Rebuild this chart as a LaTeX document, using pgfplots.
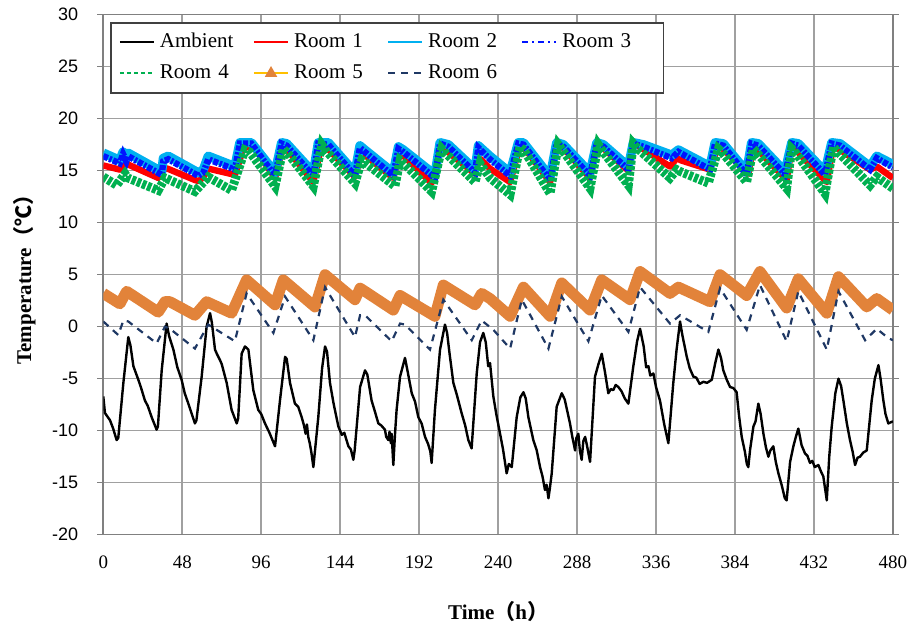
\documentclass[border=0pt]{standalone}
\usepackage{pgfplots}
\pgfplotsset{compat=1.18}
\usepackage{fontspec}
\setmainfont{Liberation Serif}
\setsansfont{Liberation Sans}
\newfontfamily\cjk{Noto Sans CJK SC}

\definecolor{gridgray}{RGB}{160,160,160}
\definecolor{framegray}{RGB}{128,128,128}
\definecolor{rOne}{RGB}{255,0,0}
\definecolor{rTwo}{RGB}{0,176,240}
\definecolor{rThree}{RGB}{0,20,255}
\definecolor{rFour}{RGB}{0,176,80}
\definecolor{rFive}{RGB}{226,131,58}
\definecolor{rFiveLine}{RGB}{255,192,0}
\definecolor{rSix}{RGB}{31,56,100}

\begin{document}
\begin{tikzpicture}
\begin{axis}[
  width=394.8pt, height=260pt, scale only axis,
  xmin=0, xmax=480, ymin=-20, ymax=30,
  xtick={0,48,...,480}, ytick={-20,-15,...,30},
  grid=major,
  grid style={draw=gridgray, line width=0.8pt},
  axis line style={draw=framegray, line width=0.8pt},
  x tick style={draw=none},
  y tick style={draw=framegray, line width=0.8pt},
  major tick length=3pt,
  tick align=outside,
  /pgf/number format/assume math mode=true,
  xticklabel style={font=\fontsize{9.5}{10}\selectfont, yshift=-4pt},
  yticklabel style={font=\sffamily\fontsize{9}{10}\selectfont, xshift=-6pt},
  xlabel={\textbf{Time}{\cjk\bfseries （}\textbf{h}{\cjk\bfseries ）}},
  ylabel={\textbf{Temperature}{\cjk\bfseries （℃）}},
  every axis x label/.style={at={(axis description cs:0.5,-0.148)}, anchor=center, font=\fontsize{10.5}{12}\selectfont},
  every axis y label/.style={at={(axis description cs:-0.1,0.5)}, anchor=center, rotate=90, font=\fontsize{10.5}{12}\selectfont},
  legend columns=4,
  legend cell align=left,
  legend style={at={(axis description cs:0.0085,0.986)}, anchor=north west,
    draw=black!75, line width=0.8pt, fill=white,
    inner xsep=4pt, inner ysep=2pt,
    font=\fontsize{10.5}{12}\selectfont,
    nodes={text width=44pt, inner xsep=2.5pt, inner ysep=3pt, text height=7.5pt, text depth=2pt},
    /tikz/every even column/.append style={column sep=0pt}},
]
\coordinate (sw) at (rel axis cs:0,0);
\coordinate (ne) at (rel axis cs:1,1);

% legend entries
\addlegendimage{black, line width=1pt}
\addlegendentry{Ambient}
\addlegendimage{rOne, line width=1pt}
\addlegendentry{Room 1}
\addlegendimage{rTwo, line width=1pt}
\addlegendentry{Room 2}
\addlegendimage{rThree, line width=1pt, dash pattern=on 3pt off 2pt on 1pt off 2pt}
\addlegendentry{Room 3}
\addlegendimage{rFour, line width=1pt, dash pattern=on 2pt off 1.5pt}
\addlegendentry{Room 4}
\addlegendimage{rFiveLine, line width=1pt, mark=triangle*, mark size=2.6pt, mark options={solid, fill=rFive, draw=rFive}}
\addlegendentry{Room 5}
\addlegendimage{rSix, line width=1pt, dash pattern=on 3.5pt off 3pt}
\addlegendentry{Room 6}

% Ambient
\addplot[forget plot, black, line width=1.2pt, line join=round] coordinates {
(0,-6.7)(1,-8.3)(4.1,-9.0)(6,-9.8)(8.1,-10.9)(9.1,-10.7)(12.2,-5.4)(15.2,-1.0)(16.5,-1.8)
(18.3,-3.8)(21.3,-5.1)(23,-5.9)(25.3,-7.1)(27,-7.6)(29.4,-8.7)(32.4,-9.9)(33.2,-9.6)
(35.5,-4.2)(38.5,0.3)(40,-0.9)(42.6,-2.2)(45,-3.9)(47.6,-5.1)(49.5,-6.4)(51.7,-7.4)(55.7,-9.3)(56.6,-9.0)
(59.8,-4.8)(62.8,0.0)(64.9,1.3)(66,0.4)(67.9,-2.2)(69,-2.6)(70.9,-3.2)(72,-3.6)(75,-5.4)(78,-8.0)(81.1,-9.3)(82,-8.8)
(84.1,-2.6)(86.1,-1.9)(88.2,-2.2)(91.2,-6.1)(94.2,-8.0)(96,-8.4)(98.3,-9.3)(101,-10.2)(104.4,-11.5)
(107.4,-7.1)(110.5,-2.9)(111.5,-3.1)(113.5,-5.4)(116.5,-7.4)(118.5,-7.7)(120.6,-8.7)(122,-9.5)(123,-10.3)(123.8,-9.4)(124.6,-10.6)(125.5,-11.2)(126.5,-12.1)(127.7,-13.5)
(130.7,-8.7)(133,-4.0)(134.8,-1.9)(136,-2.4)(137.8,-5.4)(140,-7.4)(142.9,-9.6)(145,-10.4)(146.5,-10.2)(149,-11.5)(150.5,-11.8)(152,-12.8)(152.8,-11.9)
(156.1,-5.8)(159.1,-4.2)(160.5,-4.6)(163.1,-7.1)(165,-8.1)(167.2,-9.3)(169,-9.5)(171.2,-9.9)(172,-10.6)(173.3,-10.9)(174,-10.1)(174.8,-11.2)(175.3,-10.3)(176.3,-13.3)(177.3,-10.4)
(178.3,-8.0)(180.4,-4.8)(183.4,-3.0)(185,-4.3)(187.5,-6.4)(189.5,-7.2)(191.5,-8.7)(193.5,-9.3)(195.6,-10.6)(197.5,-11.3)(198.8,-12.0)(199.6,-13.1)
(201.6,-8.0)(204.7,-2.2)(207.7,0.2)(209,-0.6)(210.5,-2.6)(212.8,-5.4)(215,-6.6)(217.8,-8.3)(220,-9.5)(221.9,-10.9)(223.9,-11.7)
(227,-4.5)(229,-1.5)(231,-0.6)(232.5,-1.5)(234,-3.8)(235.1,-3.5)(237.1,-6.7)(239,-8.5)(241.2,-10.3)(243,-11.8)(245.2,-14.1)(246.5,-13.2)(248.3,-13.5)
(251.3,-8.7)(253.5,-6.8)(255.4,-6.3)(256.8,-6.9)(258.4,-8.7)(261.4,-10.9)(263.5,-11.9)(265.5,-13.5)(267,-14.4)(268.5,-15.7)(269.5,-15.2)(270.6,-16.5)(271.5,-15.5)(272.6,-14.1)
(275.6,-7.7)(278.7,-6.4)(280.5,-7.0)(283.7,-9.3)(285,-10.5)(286.8,-11.9)(287.6,-10.7)(288.8,-10.3)(289.7,-11.9)(290.8,-12.8)(291.8,-11.0)(292.9,-10.6)(294,-11.4)(295.9,-13.0)
(298.9,-4.8)(301,-3.6)(303,-2.6)(305,-4.4)(307,-6.4)(308.5,-6.0)(310,-6.1)(311.5,-5.6)(313.1,-5.8)(315,-6.2)(317,-6.9)(319.2,-7.4)
(322.2,-3.8)(324.5,-1.4)(326.3,-0.2)(328.5,-1.9)(330,-3.9)(331.4,-3.8)(332.5,-4.7)(334.4,-4.5)(336,-5.8)(338.4,-7.1)(341,-9.4)(343.5,-11.2)
(346.5,-5.4)(348.5,-2.2)(350.6,0.5)(352,-0.8)(354.7,-2.9)(356.5,-4.0)(358.7,-4.8)(360.5,-4.9)(362.5,-5.5)(364.8,-5.3)(367,-5.4)(369.9,-5.1)
(372,-3.5)(373.9,-2.2)(375.5,-3.0)(376.9,-4.2)(379,-5.1)(381,-5.8)(383,-5.9)(385,-6.3)(386.5,-8.6)(388.1,-10.6)(390,-12.0)(391.2,-13.2)(392.1,-13.5)(393.2,-11.8)
(395.2,-9.6)(396.5,-9.1)(398.2,-7.4)(399.6,-8.4)(401.3,-10.3)(402.8,-11.6)(404.3,-12.5)(405.5,-11.9)(407.3,-11.5)(408.8,-13.0)(410.4,-14.1)(412.5,-15.3)(414.3,-16.5)(415.4,-16.7)
(417.5,-13.0)(419.5,-11.5)(421,-10.6)(422.5,-9.8)(424.5,-11.4)(426.6,-12.2)(428,-12.4)(429.6,-13.1)(431,-12.9)(432.5,-13.5)(434.7,-13.3)(436.2,-13.9)(437.7,-14.4)(439.8,-16.7)
(441.3,-12.5)(442.8,-9.6)(445,-6.4)(446.9,-5.0)(448.5,-5.7)(449.9,-7.1)(452,-9.3)(453.9,-10.9)(455.5,-12.0)(457,-13.3)(458.5,-12.6)(460,-12.5)(462,-12.1)(464.1,-11.9)
(467.1,-7.1)(469,-5.0)(471.2,-3.7)(472.5,-5.0)(474.2,-7.1)(475.5,-8.4)(477.2,-9.3)(480,-9.1)
};

% Room 1
\addplot[forget plot, rOne, line width=3.2pt, line join=round] coordinates {
(0,15.5)(10.1,15.1)(13.2,16.0)(15,15.6)(33.4,14.3)(36.5,15.2)(39,15.2)(55.7,14.1)(58,14.0)(60.8,14.4)(63.8,15.2)
(80,14.6)(85.1,17.1)(90.2,17.5)(92,17.2)(104.4,14.3)(109.4,17.3)(112,17.0)(127.7,13.9)(132.8,17.6)(136,17.2)
(153,14.4)(157.1,16.7)(159.1,16.5)(176.3,14.3)(180.4,16.7)(182,16.5)(199.6,13.8)(205.7,17.3)(208,17.0)
(226,14.7)(228,16.3)(235.1,15.2)(247.3,13.9)(253.3,17.5)(256,17.2)(271.6,13.9)(276.6,17.6)(279,17.3)
(295.9,14.3)(300.9,17.6)(303,17.3)(319.2,15.0)(322.2,17.6)(326,17.3)(344.5,15.4)(348.6,16.2)(351,16.0)
(368.8,15.1)(373.9,17.5)(376,17.2)(392.1,14.7)(395.2,17.3)(398,17.0)(415.4,14.1)(418.5,17.3)(421,17.0)
(439.8,13.9)(443.8,17.5)(446,17.2)(466.1,15.1)(470.2,15.4)(480,14.3)
};

% Room 2
\addplot[forget plot, rTwo, line width=4.6pt, line join=round] coordinates {
(0,16.7)(10,16.0)(12,16.8)(14,16.2)(15,16.7)(35.5,14.9)(36.5,16.2)(39.5,16.4)(57.8,14.8)(60.8,15.1)(63.8,16.4)
(80,15.4)(83,17.7)(90,17.7)(104.4,14.8)(108.4,17.7)(111.5,17.6)(127.7,14.8)(130.7,17.7)(136.8,17.7)
(153,14.8)(156,17.4)(159,17.0)(176.3,14.8)(179.4,17.3)(182.4,17.0)(201.6,14.6)(204.7,17.7)(209.8,17.5)
(226,15.1)(228,17.4)(235,16.4)(247.3,14.8)(252.3,17.7)(255.4,17.7)(271.6,14.4)(275.6,17.7)(279.7,17.5)
(295.9,14.8)(300,17.7)(304,17.5)(319.2,15.4)(322.2,17.7)(328.3,17.5)(345.5,16.5)(349.6,17.0)
(368.8,15.4)(371.9,17.7)(376.9,17.6)(391.1,14.9)(394.1,17.7)(398.2,17.6)(414.4,14.9)(418.5,17.7)(422.5,17.6)
(438.7,14.9)(442.8,17.7)(447.9,17.6)(466.1,15.4)(470.2,16.4)(480,15.6)
};

% Room 3
\addplot[forget plot, rThree, line width=3.2pt, dash pattern=on 2.5pt off 0.8pt on 1.2pt off 0.8pt] coordinates {
(0,16.4)(10,15.7)(12,16.6)(14,15.9)(15,16.4)(35.5,14.6)(36.5,15.9)(39.5,16.1)(57.8,14.5)(60.8,14.8)(63.8,16.1)
(80,15.1)(83,17.6)(90,17.6)(104.4,14.5)(108.4,17.6)(111.5,17.4)(127.7,14.5)(130.7,17.6)(136.8,17.5)
(153,14.5)(156,17.2)(159,16.8)(176.3,14.5)(179.4,17.1)(182.4,16.8)(201.6,14.3)(204.7,17.6)(209.8,17.3)
(226,14.8)(228,17.2)(235,16.1)(247.3,14.5)(252.3,17.6)(255.4,17.5)(271.6,14.1)(275.6,17.6)(279.7,17.3)
(295.9,14.5)(300,17.6)(304,17.3)(319.2,15.1)(322.2,17.6)(328.3,17.3)(345.5,16.2)(349.6,16.8)
(368.8,15.1)(371.9,17.6)(376.9,17.4)(391.1,14.6)(394.1,17.6)(398.2,17.4)(414.4,14.6)(418.5,17.6)(422.5,17.4)
(438.7,14.6)(442.8,17.6)(447.9,17.4)(466.1,15.1)(470.2,16.2)(480,15.3)
};

% Room 4
\addplot[forget plot, rFour, line width=4.4pt, dash pattern=on 2pt off 0.8pt] coordinates {
(0,14.4)(8.1,13.6)(13.2,14.7)(15,14.3)(33.4,13.1)(37.5,14.3)(39,14.2)(55.7,13.0)(63.8,14.4)(66,14.2)
(78,13.1)(86.1,17.0)(89,16.8)(104.4,13.5)(109.4,17.1)(112,16.7)(127.7,13.5)(132.8,17.5)(135,17.0)
(153,13.8)(157.1,16.0)(159,15.8)(177.3,13.5)(180.4,16.0)(182,15.8)(199.6,13.0)(205.7,17.1)(208,16.7)
(226,13.9)(229,15.7)(235.1,14.3)(247.3,12.7)(253.3,17.3)(256,16.9)(271.6,12.8)(276.6,17.5)(279,17.0)
(295.9,13.3)(300.9,17.5)(303,17.0)(319.2,13.6)(322.2,17.6)(325,17.1)(344.5,14.3)(348.6,15.1)(351,14.9)
(367.8,13.8)(373.9,17.1)(376,16.8)(391.1,13.9)(395.2,17.1)(397,16.8)(415.4,13.3)(418.5,17.1)(421,16.7)
(438.7,12.8)(443.8,17.3)(446,16.9)(466.1,13.6)(470.2,14.4)(480,13.3)
};

% Room 5
\addplot[forget plot, rFive, line width=5.5pt, line join=round] coordinates {
(0,3.2)(10.1,2.2)(14.2,3.4)(33.4,1.4)(37.5,2.4)(40.5,2.4)(55.7,1.1)(62.8,2.4)(78,1.3)(87.1,4.5)
(104.4,2.1)(109.4,4.5)(128.7,1.9)(134.8,5.0)(153,2.6)(156.1,3.7)(158.1,3.5)(176.3,1.6)(180.4,3.0)
(201.6,1.0)(206.7,4.0)(226,2.1)(230,3.2)(235.1,2.7)(247.3,1.0)(255.4,3.8)(271.6,1.0)(278.7,4.2)
(295.9,1.6)(303,4.5)(320.2,2.6)(326.3,5.3)(344.5,3.2)(349.6,3.8)(368.8,2.4)(374.9,5.0)(391.1,3.0)
(399.2,5.3)(415.4,1.8)(422.5,4.6)(439.8,1.3)(446.9,4.8)(464.1,1.9)(470.2,2.7)(480,1.6)
};

% Room 6
\addplot[forget plot, rSix, line width=1.1pt, dash pattern=on 3.5pt off 3pt] coordinates {
(0,0.5)(9.1,-0.8)(12.2,0.6)(15.2,0.5)(32.4,-1.6)(37.5,0.0)(40.5,-0.2)(55.7,-2.1)(63.8,0.2)(80,-1.4)
(87.1,3.2)(103.4,-0.6)(110.5,2.9)(127.7,-1.3)(134.8,3.8)(153,-1.0)(156.1,1.1)(159.1,1.1)(175.3,-1.4)
(180.4,0.3)(183.4,0.2)(198.6,-2.2)(206.7,2.6)(224,-1.3)(230,0.6)(237.1,-0.3)(247.3,-2.1)(254.4,2.6)
(270.6,-2.1)(278.7,2.9)(294.9,-1.4)(303,3.0)(319.2,-0.5)(326.3,3.8)(344.5,0.3)(350.6,1.1)(367.8,-0.5)
(374.9,3.7)(391.1,-0.3)(399.2,4.0)(415.4,-1.4)(422.5,3.4)(439.8,-2.2)(446.9,3.4)(463.1,-1.3)(470.2,-0.2)
(477.2,-1.1)(480,-1.3)
};
\end{axis}
\pgfresetboundingbox
\useasboundingbox ([xshift=-51.65pt, yshift=-43.65pt]sw) rectangle ([xshift=7.55pt, yshift=7.35pt]ne);
\end{tikzpicture}
\end{document}
